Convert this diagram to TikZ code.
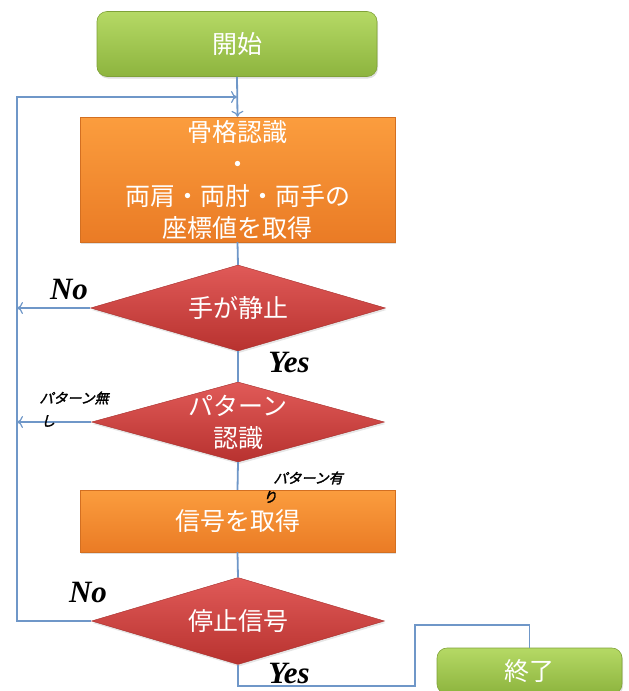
\documentclass[tikz,border=0pt]{standalone}
\usepackage{fontspec}
\newfontfamily\jp{Noto Sans CJK JP}
\newfontfamily\jpit[FakeSlant=0.25,FakeBold=2]{Noto Sans CJK JP}
\newfontfamily\lab{Liberation Serif}
\usetikzlibrary{shapes.geometric,arrows.meta,shadows}
\definecolor{lnblue}{HTML}{6F97C8}
\definecolor{grtop}{HTML}{B5D965}
\definecolor{grbot}{HTML}{8DB43E}
\definecolor{ortop}{HTML}{FB9D3E}
\definecolor{orbot}{HTML}{EA7B25}
\definecolor{rdtop}{HTML}{E05A58}
\definecolor{rdbot}{HTML}{B8322F}
\tikzset{
  txt/.style={text=white,font=\jp\fontsize{25}{32}\selectfont,align=center,inner sep=0pt},
  gbox/.style={txt,rectangle,rounded corners=10pt,top color=grtop,bottom color=grbot,draw=grbot!90!black,line width=0.6pt,drop shadow={opacity=0.25,shadow xshift=1pt,shadow yshift=-2pt}},
  obox/.style={txt,rectangle,top color=ortop,bottom color=orbot,draw=orbot!90!black,line width=0.4pt,drop shadow={opacity=0.25,shadow xshift=1pt,shadow yshift=-2pt}},
  dia/.style={diamond,inner sep=0pt,top color=rdtop,bottom color=rdbot,draw=rdbot!90!black,line width=0.4pt,drop shadow={opacity=0.2,shadow xshift=1pt,shadow yshift=-2pt}},
  conn/.style={draw=lnblue,line width=1.8pt},
  arr/.style={conn,-{To[length=6pt,width=12pt,line width=1.2pt]}},
  yn/.style={font=\lab\bfseries\itshape\fontsize{31}{31}\selectfont,text=black,inner sep=0pt},
  sm/.style={font=\jpit\fontsize{14}{16}\selectfont,text=black,inner sep=0pt,align=left}
}
\begin{document}
\begin{tikzpicture}[x=1pt,y=-1pt]
\useasboundingbox (0,0) rectangle (629,691);
\node[gbox,minimum width=280pt,minimum height=65pt] (start) at (237,44) {開始};
\node[obox,minimum width=315pt,minimum height=125pt] (skel) at (237.5,179.5) {骨格認識\\・\\両肩・両肘・両手の\\座標値を取得};
\node[dia,minimum width=295pt,minimum height=86pt,label={[txt]center:手が静止}] (d1) at (238,308) {};
\node[dia,minimum width=293pt,minimum height=80pt,label={[txt]center:パターン\\認識}] (d2) at (238,422) {};
\node[obox,minimum width=315pt,minimum height=62pt] (sig) at (237.5,521) {信号を取得};
\node[dia,minimum width=293pt,minimum height=87pt,label={[txt]center:停止信号}] (d3) at (238,621) {};
\node[gbox,minimum width=185pt,minimum height=46pt] (fin) at (529.5,671) {終了};

\coordinate (lt) at (17,97);
\coordinate (lb) at (17,621);
\coordinate (j) at (start.south |- lt);
\coordinate (y1) at (238,686);
\coordinate (y2) at (415,686);
\coordinate (y3) at (415,625);

\draw[arr] (start.south) -- (skel.north);
\draw[conn] (skel.south) -- (d1.north);
\draw[conn] (d1.south) -- (d2.north);
\draw[conn] (d2.south) -- (sig.north);
\draw[conn] (sig.south) -- (d3.north);
\draw[arr] (d3.west) -- (lb) -- (lt) -- (j);
\draw[arr] (d1.west) -- (d1.west -| lt);
\draw[arr] (d2.west) -- (d2.west -| lt);
\draw[conn] (d3.south) -- (y1) -- (y2) -- (y3) -| (fin.north);

\node[yn] (no1) at (69,289) {No};
\node[yn] (yes1) at (289,362) {Yes};
\node[yn] (no2) at (88,592) {No};
\node[yn] (yes2) at (289,673) {Yes};
\node[sm] (pn) at (74,398) {パターン無};
\node[sm] (pn2) at (48,421) {し};
\node[sm] (pa) at (308,478) {パターン有};
\node[sm] (pa2) at (270,497) {り};
\end{tikzpicture}
\end{document}
